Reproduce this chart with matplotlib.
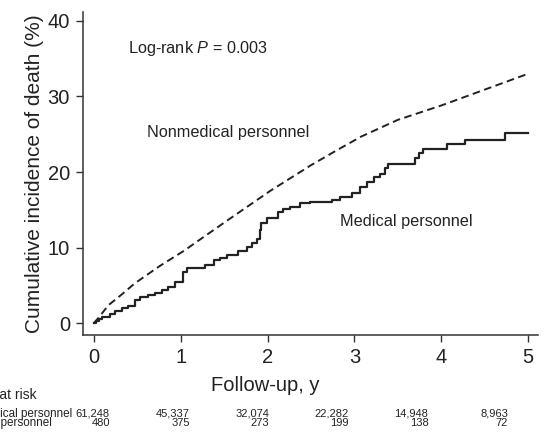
import matplotlib
matplotlib.use("Agg")
import matplotlib.pyplot as plt

plt.rcParams["font.family"] = ["Liberation Sans", "DejaVu Sans"]
plt.rcParams["mathtext.fontset"] = "custom"
plt.rcParams["mathtext.rm"] = "Liberation Sans"
plt.rcParams["mathtext.it"] = "Liberation Sans:italic"
plt.rcParams["lines.scale_dashes"] = False

# Nonmedical personnel (dashed, smooth)
nonmed_t = [0, 0.05, 0.17, 0.3, 0.475, 0.75, 1.04, 1.5, 2.03, 2.5, 2.8, 3.08, 3.5, 4.0, 4.5, 5.0]
nonmed_v = [0, 0.66, 2.4, 3.6, 5.3, 7.5, 9.6, 13.3, 17.5, 20.9, 22.9, 24.7, 26.9, 28.8, 30.9, 33.0]

# Medical personnel (solid, step)
med_t = [0, 0.03, 0.06, 0.09, 0.19, 0.245, 0.32, 0.40, 0.475, 0.53, 0.63, 0.71, 0.78, 0.86,
         0.94, 1.03, 1.07, 1.28, 1.38, 1.45, 1.53, 1.66, 1.76, 1.82, 1.88, 1.91, 1.93, 1.99,
         2.12, 2.18, 2.26, 2.37, 2.49, 2.74, 2.83, 2.97, 3.06, 3.14, 3.22, 3.29, 3.35, 3.39,
         3.70, 3.74, 3.79, 4.06, 4.27, 4.73, 5.0]
med_v = [0, 0.3, 0.6, 0.87, 1.2, 1.67, 2.0, 2.3, 3.1, 3.5, 3.74, 4.05, 4.4, 4.84,
         5.5, 6.8, 7.3, 7.7, 8.4, 8.6, 9.0, 9.5, 10.1, 10.6, 11.2, 12.3, 13.2, 13.9,
         14.75, 15.1, 15.4, 15.9, 16.1, 16.3, 16.7, 17.2, 18.0, 18.7, 19.3, 19.8, 20.5, 21.0,
         21.8, 22.5, 23.1, 23.7, 24.3, 25.2, 25.2]

# Number at risk
risk_rows = ["Nonmedical personnel", "Medical personnel"]
risk_nonmed = ["61,248", "45,337", "32,074", "22,282", "14,948", "8,963"]
risk_med = ["480", "375", "273", "199", "138", "72"]

ink = "#222222"
W, H = 560, 441

fig = plt.figure(figsize=(5.6, 4.41), dpi=100)
ax = fig.add_axes([82.7 / W, 1 - 335 / H, (538.3 - 82.7) / W, (335 - 11.7) / H])

ax.plot(nonmed_t, nonmed_v, color=ink, lw=1.4, linestyle=(0, (5.5, 3.2)))
ax.step(med_t, med_v, where="post", color=ink, lw=1.6)

ax.set_xlim(-0.127, 5.116)
ax.set_ylim(-1.55, 41.2)
ax.set_xticks(range(6))
ax.set_yticks([0, 10, 20, 30, 40])

for s in ["top", "right"]:
    ax.spines[s].set_visible(False)
for s in ["left", "bottom"]:
    ax.spines[s].set_color("#333333")
    ax.spines[s].set_linewidth(1.1)

ax.tick_params(axis="both", direction="out", length=4.7, width=1, color="#333333",
               labelsize=14.5, labelcolor=ink, pad=4.5)

ax.set_ylabel("Cumulative incidence of death (%)", fontsize=15, color=ink)
ax.yaxis.set_label_coords((43.5 - 82.7) / 455.6, 0.5)
ax.set_xlabel("Follow-up, y", fontsize=14.5, color=ink)
ax.xaxis.set_label_coords((265.5 - 82.7) / 455.6, -(376 - 335) / 323.3)

ax.text(0.394, 36.4, "Log-rank $\\it{P}$ = 0.003", fontsize=11.7, color=ink, va="center")
ax.text(0.613, 25.2, "Nonmedical personnel", fontsize=11.7, color=ink, va="center")
ax.text(2.83, 13.4, "Medical personnel", fontsize=11.7, color=ink, va="center")

# risk table below the plot (left part runs off the edge, as in the original)
fig.text(37 / W, 1 - 395 / H, "No. at risk", fontsize=10, color=ink, ha="right", va="center")
row_ends = [72, 52]
for row, label in enumerate(risk_rows):
    fig.text(row_ends[row] / W, 1 - (413.5 + 9.5 * row) / H, label, fontsize=8.4, color=ink,
             ha="right", va="center")
for k in range(len(risk_nonmed)):
    x = (110 + 79.6 * k) / W
    fig.text(x, 1 - 413.5 / H, risk_nonmed[k], fontsize=8, color=ink, ha="right", va="center")
    fig.text(x, 1 - 423 / H, risk_med[k], fontsize=8, color=ink, ha="right", va="center")

fig.savefig("out.png", dpi=100)
